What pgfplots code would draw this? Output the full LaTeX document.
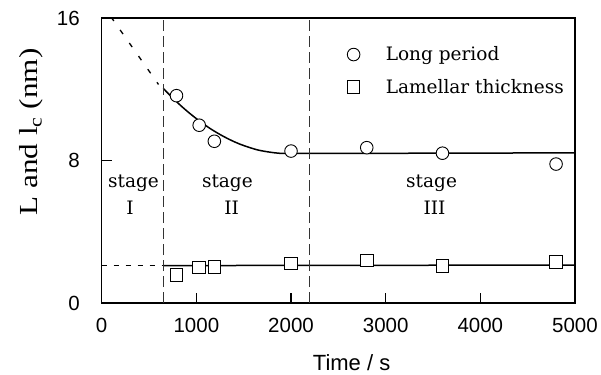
\documentclass[border=0pt]{standalone}
\usepackage{fontspec}
\setmainfont{DejaVu Serif}
\newfontfamily\sansf{Liberation Sans}
\newfontfamily\timesf[FakeStretch=1.2]{Liberation Serif}
\usepackage{pgfplots}
\pgfplotsset{compat=1.18}
\usetikzlibrary{calc}
\begin{document}
\begin{tikzpicture}
\begin{axis}[
  scale only axis, width=473.3bp, height=285bp,
  xmin=0, xmax=5000, ymin=0, ymax=16,
  xtick={0,1000,2000,3000,4000,5000}, ytick={0,8,16},
  xtick pos=bottom, ytick pos=left, tick align=inside,
  major tick length=10bp,
  axis line style={line width=1.2bp},
  every tick/.style={line width=1.1bp, black},
  /pgf/number format/assume math mode=true,
  /pgf/number format/1000 sep={},
  ticklabel style={font=\sansf\fontsize{20.5bp}{24bp}\selectfont},
  xticklabel style={inner sep=0pt, yshift=-15bp},
  yticklabel style={inner sep=0pt, xshift=-21.7bp},
  xlabel={Time / s},
  xlabel style={font=\sansf\fontsize{22bp}{26bp}\selectfont, at={(axis description cs:0.528,0)}, anchor=base, yshift=-67.5bp},
  ylabel={L and l\textsubscript{c} (nm)},
  ylabel style={font=\timesf\fontsize{26bp}{30bp}\selectfont, at={([xshift=-63.7bp]axis description cs:0,0.6)}, anchor=base},
  legend image code/.code={\draw[#1] plot coordinates {(0bp,0bp)}; \path (-8bp,0bp) (30bp,0bp);},
  legend style={at={(axis cs:2541,14.62)}, anchor=north west, draw=none, fill=none,
    font=\fontsize{18.5bp}{21bp}\selectfont, row sep=13bp},
  legend cell align=left,
]
\coordinate (bl) at (rel axis cs:0,0);
\coordinate (tr) at (rel axis cs:1,1);
% fits
\addplot[black, line width=1.5bp, smooth, forget plot] coordinates {
  (650,12.05) (750,11.51) (850,11.01) (950,10.56) (1050,10.15) (1150,9.78)
  (1250,9.46) (1350,9.18) (1450,8.94) (1550,8.75) (1650,8.59) (1750,8.49)
  (1850,8.42) (1950,8.40) (2500,8.40) (3500,8.41) (5000,8.43)};
\addplot[black, line width=1.5bp, forget plot] coordinates {(650,2.1) (5000,2.13)};
\addplot[black, line width=1.3bp, dash pattern=on 5bp off 11bp, forget plot] coordinates {(0,16.8) (600,12.27)};
\addplot[black, line width=1.1bp, dash pattern=on 5bp off 7bp, forget plot] coordinates {(0,2.1) (650,2.1)};
% stage boundaries
\addplot[black!80, line width=0.7bp, dash pattern=on 11bp off 5bp, forget plot] coordinates {(650,0) (650,16)};
\addplot[black!80, line width=0.7bp, dash pattern=on 11bp off 5bp, forget plot] coordinates {(2190,0) (2190,16)};
% data
\addplot[only marks, mark=*, mark size=6.3bp, mark options={fill=white, draw=black, line width=0.9bp}] coordinates {
  (790,11.64) (1030,9.98) (1190,9.08) (2000,8.53) (2800,8.72) (3600,8.41) (4800,7.80)};
\addlegendentry{Long period}
\addplot[only marks, mark=square*, mark size=6.3bp, mark options={fill=white, draw=black, line width=0.9bp}] coordinates {
  (790,1.57) (1030,2.0) (1190,2.04) (2000,2.23) (2800,2.38) (3600,2.09) (4800,2.32)};
\addlegendentry{Lamellar thickness}
% stage labels
\node[anchor=base, font=\fontsize{18.5bp}{22bp}\selectfont] at (axis cs:336,6.5) {stage};
\node[anchor=base, font=\fontsize{18.5bp}{22bp}\selectfont] at (axis cs:300,4.95) {I};
\node[anchor=base, font=\fontsize{18.5bp}{22bp}\selectfont] at (axis cs:1328,6.5) {stage};
\node[anchor=base, font=\fontsize{18.5bp}{22bp}\selectfont] at (axis cs:1373,4.95) {II};
\node[anchor=base, font=\fontsize{18.5bp}{22bp}\selectfont] at (axis cs:3485,6.5) {stage};
\node[anchor=base, font=\fontsize{18.5bp}{22bp}\selectfont] at (axis cs:3516,4.95) {III};
\end{axis}
\pgfresetboundingbox
\path ($(bl)+(-101.7bp,-72bp)$) rectangle ($(tr)+(26bp,18bp)$);
\end{tikzpicture}
\end{document}
